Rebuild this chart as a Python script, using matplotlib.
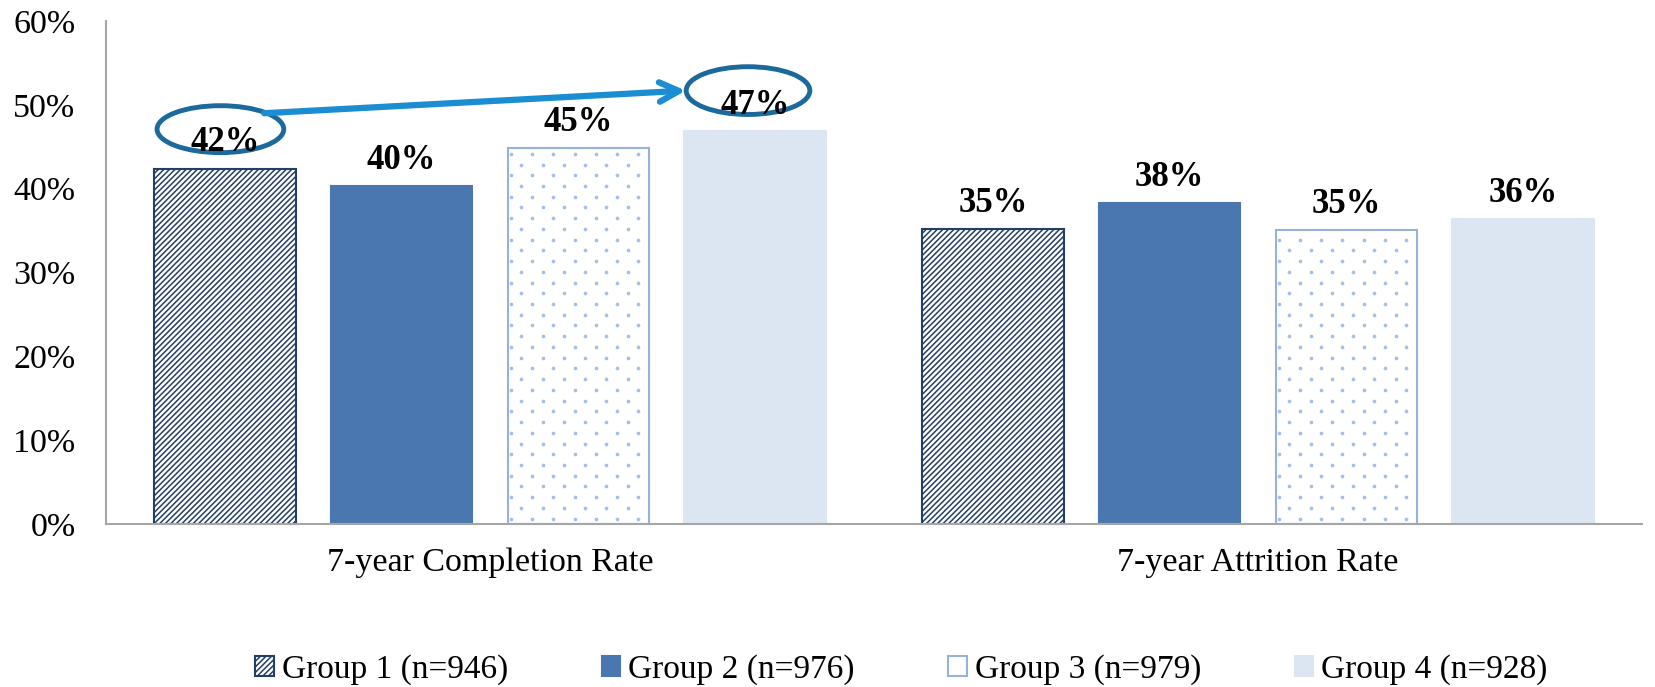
import matplotlib
matplotlib.use("Agg")
import numpy as np
import matplotlib.pyplot as plt
from matplotlib.patches import Ellipse, Patch

categories = ["7-year Completion Rate", "7-year Attrition Rate"]
groups = ["Group 1 (n=946)", "Group 2 (n=976)", "Group 3 (n=979)", "Group 4 (n=928)"]
completion = [42.4, 40.3, 44.8, 46.9]
attrition = [35.2, 38.3, 35.1, 36.4]
yticks = [0, 10, 20, 30, 40, 50, 60]

# bar styling per group: face, edge, hatch
faces = ["white", "#4A77AF", "white", "#DCE6F2"]
edges = ["#243F66", "#4A77AF", "#95B3D7", "#DCE6F2"]
hatches = ["//////", None, None, None]
dotted = [False, False, True, False]

plt.rcParams["font.family"] = ["Liberation Serif", "DejaVu Serif"]
plt.rcParams["hatch.linewidth"] = 1.1

fig = plt.figure(figsize=(16.56, 6.87), dpi=100)
ax = fig.add_axes([0.064, 0.2373, 0.9275, 0.7321])

x = np.arange(len(categories))
step = 0.23
width = 0.184
data = np.array([completion, attrition]).T  # rows = groups

ax.set_xlim(-0.5, 1.5)
ax.set_ylim(0, 60)


def dot_fill(bar):
    # staggered dot texture clipped to the bar
    x0, w, h = bar.get_x(), bar.get_width(), bar.get_height()
    dx, dy = 0.0277, 1.28
    pts = []
    for r, yy in enumerate(np.arange(dy / 2, h, dy)):
        off = 0.004 if r % 2 == 0 else 0.004 + dx / 2
        for xx in np.arange(x0 + off, x0 + w, dx):
            pts.append((xx, yy))
    pts = np.array(pts)
    sc = ax.scatter(pts[:, 0], pts[:, 1], s=7, color="#A3BFE4",
                    linewidths=0, zorder=3)
    sc.set_clip_path(bar)


for i in range(len(groups)):
    xs = x + (i - 1.5) * step
    bars = ax.bar(xs, data[i], width, color=faces[i], edgecolor=edges[i],
                  hatch=hatches[i], linewidth=1.5, label=groups[i], zorder=2)
    for b, v in zip(bars, data[i]):
        if dotted[i]:
            dot_fill(b)
        ax.annotate(f"{v:.0f}%", (b.get_x() + b.get_width() / 2, v),
                    xytext=(0, 18.5), textcoords="offset points",
                    ha="center", va="center", fontsize=25, fontweight="bold",
                    zorder=6)

ax.set_yticks(yticks)
ax.set_yticklabels([f"{t}%" for t in yticks], fontsize=24.5)
ax.set_xticks(x)
ax.set_xticklabels(categories, fontsize=24.5)
ax.tick_params(axis="y", length=0, pad=22)
ax.tick_params(axis="x", length=0, pad=17)
for s in ["top", "right"]:
    ax.spines[s].set_visible(False)
for s in ["left", "bottom"]:
    ax.spines[s].set_color("#A6A6A6")
    ax.spines[s].set_linewidth(1.5)

# highlight the change from group 1 to group 4
x1 = x[0] - 1.5 * step
x4 = x[0] + 1.5 * step
ax.add_patch(Ellipse((x1 - 0.006, 47.1), 0.165, 5.6, fill=False,
                     edgecolor="#1B6A9B", linewidth=3.5, zorder=4))
ax.add_patch(Ellipse((x4 - 0.009, 51.7), 0.161, 5.7, fill=False,
                     edgecolor="#1B6A9B", linewidth=3.5, zorder=4))
ax.annotate("", xy=(x4 - 0.09, 51.7), xytext=(x1 + 0.051, 49.0),
            arrowprops=dict(arrowstyle="->,head_length=1.4,head_width=0.7",
                            color="#1A8DD3", linewidth=4.5, shrinkA=0, shrinkB=0),
            zorder=5)

handles = [Patch(facecolor=faces[i], edgecolor=edges[i], hatch=hatches[i],
                 linewidth=1.5) for i in range(len(groups))]
fig.legend(handles, groups, loc="center", bbox_to_anchor=(0.5444, 0.0247),
           ncol=4, frameon=False, fontsize=24, handlelength=0.55,
           handleheight=0.55, handletextpad=0.25, columnspacing=2.8)

fig.savefig("out.png", dpi=100)
